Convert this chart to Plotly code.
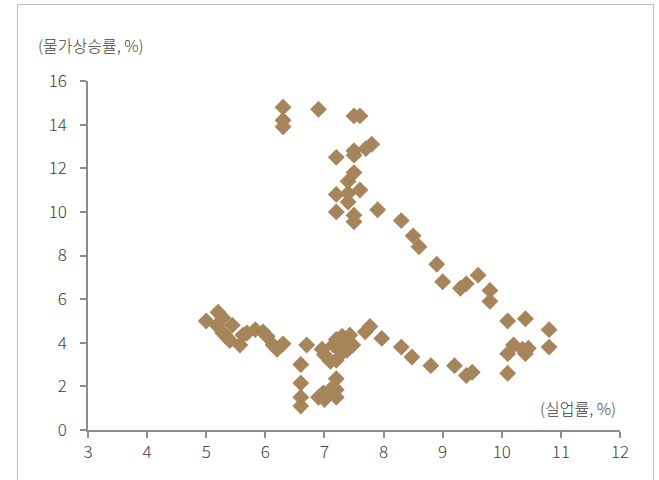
import plotly.graph_objects as go

# Unemployment rate (%)
unemployment = [
    # upper branch
    6.3, 6.3, 6.3, 6.9, 7.5, 7.6, 7.2, 7.5, 7.5, 7.7, 7.8, 7.5, 7.4, 7.2, 7.4, 7.6,
    7.4, 7.2, 7.5, 7.5, 7.9, 8.3, 8.5, 8.6, 8.9, 9.0, 9.3, 9.4, 9.6, 9.8, 9.8,
    10.1, 10.4, 10.8, 10.8, 10.2, 10.1, 10.35, 10.4, 10.45, 10.1,
    # lower branch
    5.0, 5.2, 5.28, 5.18, 5.44, 5.28, 5.4, 5.35, 5.57, 5.62, 5.69, 5.83, 5.96, 6.03,
    6.13, 6.2, 6.3, 6.7, 6.6, 6.6, 6.6, 6.6, 6.9, 6.98, 7.1, 7.2, 7.2, 7.2, 7.0,
    7.05, 6.96, 7.0, 7.1, 7.2, 7.2, 7.3, 7.43, 7.48, 7.38, 7.3, 7.25, 7.15, 7.35,
    7.77, 7.69, 7.97, 8.3, 8.48, 8.8, 9.2, 9.4, 9.5,
]
# Inflation rate (%)
inflation = [
    14.8, 14.2, 13.9, 14.7, 14.4, 14.4, 12.5, 12.8, 12.6, 12.9, 13.1, 11.8, 11.4, 10.8, 10.85, 11.0,
    10.45, 10.0, 9.85, 9.55, 10.1, 9.6, 8.9, 8.4, 7.6, 6.8, 6.5, 6.7, 7.1, 6.4, 5.9,
    5.0, 5.1, 4.6, 3.8, 3.9, 3.5, 3.7, 3.5, 3.75, 2.6,
    5.0, 5.4, 5.15, 4.8, 4.8, 4.45, 4.1, 4.25, 3.9, 4.35, 4.45, 4.6, 4.5, 4.3,
    3.9, 3.7, 3.95, 3.9, 3.0, 2.15, 1.5, 1.1, 1.5, 1.7, 1.85, 2.35, 1.85, 1.5, 1.4,
    1.6, 3.7, 3.45, 3.15, 3.2, 4.15, 4.3, 4.35, 3.9, 3.65, 3.55, 3.85, 3.9, 4.0,
    4.75, 4.5, 4.2, 3.8, 3.35, 2.95, 2.95, 2.5, 2.65,
]

x_ticks = [3, 4, 5, 6, 7, 8, 9, 10, 11, 12]
y_ticks = [0, 2, 4, 6, 8, 10, 12, 14, 16]
y_title = "(물가상승률, %)"
x_title = "(실업률, %)"

FONT = "Noto Sans CJK KR"
TXT = "#404040"

fig = go.Figure()
fig.add_trace(go.Scatter(
    x=unemployment, y=inflation, mode="markers",
    marker=dict(symbol="diamond", size=13, color="#A6855A", line=dict(width=0)),
    hoverinfo="x+y", showlegend=False,
))

W, H = 659, 480
ml, mr, mt, mb = 88, 39, 81, 50
pw, ph = W - ml - mr, H - mt - mb

def px_x(p):
    return (p - ml) / pw

def px_y(p):
    return (H - mb - p) / ph

fig.update_layout(
    width=W, height=H,
    margin=dict(l=ml, r=mr, t=mt, b=mb),
    paper_bgcolor="white", plot_bgcolor="white",
    font=dict(family=FONT, size=17, color=TXT, weight=300),
    xaxis=dict(
        range=[3, 12], tickvals=x_ticks, showgrid=False, zeroline=False,
        showline=True, linecolor="#8c8c8c", linewidth=1.5,
        ticks="outside", ticklen=6, tickcolor="#8c8c8c", tickwidth=1.5,
        tickfont=dict(family=FONT, size=17, color=TXT, weight=300),
    ),
    yaxis=dict(
        range=[0, 16], tickvals=y_ticks, showgrid=False, zeroline=False,
        showline=True, linecolor="#8c8c8c", linewidth=1.5,
        ticks="outside", ticklen=6, tickcolor="#8c8c8c", tickwidth=1.5,
        ticklabelstandoff=10,
        tickfont=dict(family=FONT, size=17, color=TXT, weight=300),
    ),
    annotations=[
        dict(text=y_title, xref="paper", yref="paper", x=px_x(36), y=px_y(45),
             xanchor="left", yanchor="middle", showarrow=False,
             font=dict(family=FONT, size=16, color=TXT, weight=300)),
        dict(text=x_title, xref="paper", yref="paper", x=px_x(618), y=px_y(408),
             xanchor="right", yanchor="middle", showarrow=False,
             font=dict(family=FONT, size=16, color=TXT, weight=300)),
    ],
    shapes=[
        dict(type="rect", xref="paper", yref="paper",
             x0=px_x(17.5), x1=px_x(653.5), y0=px_y(490), y1=px_y(4.5),
             line=dict(color="#bdbdbd", width=1), layer="below"),
    ],
)

fig.write_html(
    "out.html",
    config={"displayModeBar": False},
    post_script="document.body.style.margin='0';document.body.style.overflow='hidden';",
)
